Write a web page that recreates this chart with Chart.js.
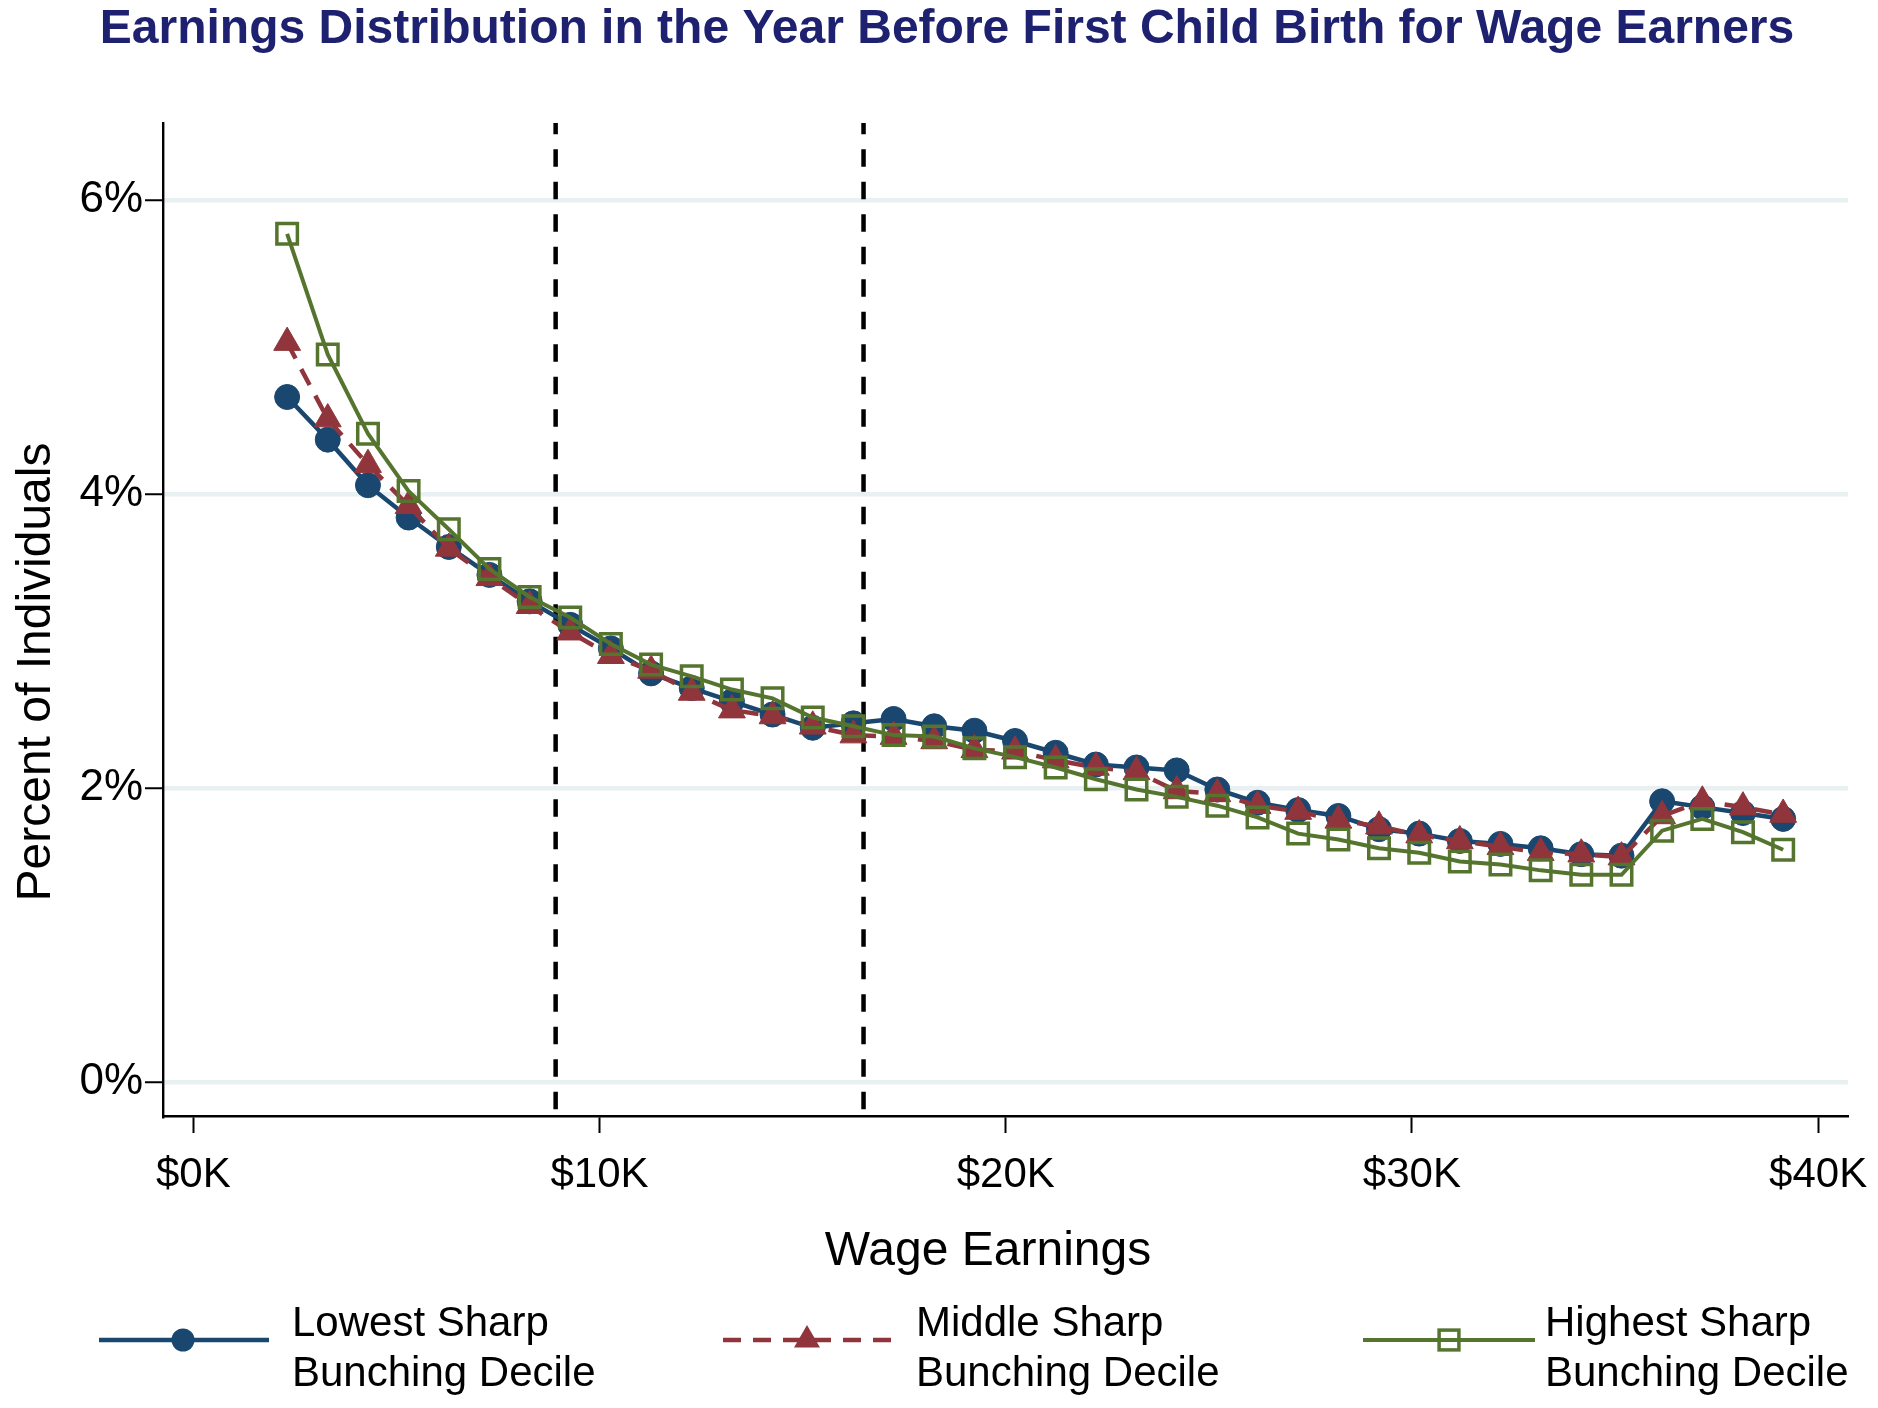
<!DOCTYPE html>
<html><head><meta charset="utf-8">
<script src="https://cdn.jsdelivr.net/npm/chart.js@4.4.1/dist/chart.umd.min.js"></script>
<style>html,body{margin:0;padding:0;background:#fff;}canvas{display:block;}</style>
</head><body>
<canvas id="c" width="1878" height="1408"></canvas>
<script>
// ---- data (wage earnings in $K, percent of individuals) ----
const earningsK = [2.31, 3.31, 4.30, 5.30, 6.29, 7.29, 8.28, 9.28, 10.28, 11.27,
  12.27, 13.26, 14.26, 15.25, 16.25, 17.24, 18.24, 19.23, 20.23, 21.23,
  22.22, 23.22, 24.21, 25.21, 26.20, 27.20, 28.19, 29.19, 30.18, 31.18,
  32.18, 33.17, 34.17, 35.16, 36.16, 37.15, 38.15, 39.14];
const lowestSharp = [4.66, 4.37, 4.06, 3.84, 3.64, 3.45, 3.27, 3.11, 2.95, 2.78,
  2.68, 2.59, 2.50, 2.41, 2.44, 2.47, 2.42, 2.39, 2.32, 2.24,
  2.16, 2.14, 2.12, 1.99, 1.90, 1.85, 1.81, 1.72, 1.69, 1.64,
  1.62, 1.59, 1.55, 1.54, 1.91, 1.87, 1.83, 1.79];
const middleSharp = [5.03, 4.51, 4.20, 3.92, 3.63, 3.43, 3.24, 3.06, 2.90, 2.80,
  2.65, 2.53, 2.49, 2.42, 2.36, 2.35, 2.32, 2.26, 2.25, 2.19,
  2.14, 2.11, 1.98, 1.96, 1.88, 1.84, 1.78, 1.74, 1.68, 1.64,
  1.60, 1.56, 1.55, 1.53, 1.81, 1.91, 1.87, 1.82];
const highestSharp = [5.77, 4.95, 4.41, 4.02, 3.76, 3.49, 3.30, 3.16, 2.98, 2.84,
  2.76, 2.67, 2.61, 2.48, 2.42, 2.36, 2.35, 2.27, 2.21, 2.14,
  2.06, 1.99, 1.94, 1.88, 1.80, 1.69, 1.65, 1.59, 1.56, 1.50,
  1.48, 1.44, 1.41, 1.41, 1.71, 1.79, 1.70, 1.58];
const cutoffsK = [8.92, 16.5];
const xTickValues = [0, 10, 20, 30, 40];
const yTickValues = [0, 2, 4, 6];
const seriesLabels = [["Lowest Sharp", "Bunching Decile"], ["Middle Sharp", "Bunching Decile"], ["Highest Sharp", "Bunching Decile"]];
const titleText = "Earnings Distribution in the Year Before First Child Birth for Wage Earners";
const xTitleText = "Wage Earnings";
const yTitleText = "Percent of Individuals";

// ---- styling ----
const FONT = "'Liberation Sans', Arial, Helvetica, sans-serif";
const NAVY = '#1a476f', MAROON = '#90353b', GREEN = '#55752f';
const X_MIN = -0.746, X_MAX = 40.736, Y_MIN = -0.231, Y_MAX = 6.524;

const toXY = ys => ys.map((y, i) => ({ x: earningsK[i], y }));

const datasets = [
  { data: toXY(lowestSharp), borderColor: NAVY, borderWidth: 4.5, pointStyle: 'circle', pointRadius: 12.5,
    pointBackgroundColor: NAVY, pointBorderColor: NAVY, pointBorderWidth: 1, order: 3 },
  { data: toXY(middleSharp), borderColor: MAROON, borderWidth: 4.5, borderDash: [18, 12], pointStyle: 'triangle', pointRadius: 15.5,
    pointBackgroundColor: MAROON, pointBorderColor: MAROON, pointBorderWidth: 1, order: 2 },
  { data: toXY(highestSharp), borderColor: GREEN, borderWidth: 4, pointStyle: 'rect', pointRadius: 14.5,
    pointBackgroundColor: 'rgba(0,0,0,0)', pointBorderColor: GREEN, pointBorderWidth: 3.5, order: 1 },
  ...cutoffsK.map(c => ({ data: [{ x: c, y: Y_MAX }, { x: c, y: Y_MIN }], borderColor: '#000', borderWidth: 4.5,
    borderDash: [17.5, 15], borderDashOffset: 6.3, pointRadius: 0, order: 10 }))
];

function drawMarker(ctx, style, x, y, r, color, lw) {
  ctx.save();
  ctx.fillStyle = color; ctx.strokeStyle = color;
  ctx.beginPath();
  if (style === 'circle') { ctx.arc(x, y, r, 0, Math.PI * 2); ctx.fill(); }
  else if (style === 'triangle') {
    ctx.moveTo(x, y - r);
    ctx.lineTo(x + r * Math.sin(Math.PI / 3), y + r / 2);
    ctx.lineTo(x - r * Math.sin(Math.PI / 3), y + r / 2);
    ctx.closePath(); ctx.fill();
  } else {
    const s = r * Math.SQRT1_2; ctx.lineWidth = lw; ctx.strokeRect(x - s, y - s, 2 * s, 2 * s);
  }
  ctx.restore();
}

const textPlugin = {
  id: 'texts',
  afterDraw(chart) {
    const ctx = chart.ctx;
    ctx.save();
    // title
    ctx.fillStyle = '#1e2170';
    ctx.font = `bold 48px ${FONT}`;
    ctx.textAlign = 'center'; ctx.textBaseline = 'alphabetic';
    ctx.fillText(titleText, 947, 43);
    // axis titles
    ctx.fillStyle = '#000';
    ctx.font = `48px ${FONT}`;
    ctx.fillText(xTitleText, 988, 1265);
    ctx.save();
    ctx.translate(50, 672); ctx.rotate(-Math.PI / 2);
    ctx.fillText(yTitleText, 0, 0);
    ctx.restore();
    // legend
    const items = [
      { x0: 99, x1: 269, mx: 183, tx: 292, color: NAVY, dash: [], style: 'circle', r: 11.5, lw: 4.5 },
      { x0: 723, x1: 893, mx: 807, tx: 916, color: MAROON, dash: [18, 12], style: 'triangle', r: 15, lw: 4.5 },
      { x0: 1363, x1: 1535, mx: 1449, tx: 1545, color: GREEN, dash: [], style: 'rect', r: 14, lw: 4 }
    ];
    const ly = 1340;
    items.forEach((it, i) => {
      ctx.save();
      ctx.strokeStyle = it.color; ctx.lineWidth = it.lw; ctx.setLineDash(it.dash);
      ctx.beginPath(); ctx.moveTo(it.x0, ly); ctx.lineTo(it.x1, ly); ctx.stroke();
      ctx.restore();
      drawMarker(ctx, it.style, it.mx, ly, it.r, it.color, 3.5);
      ctx.fillStyle = '#000';
      ctx.font = `42px ${FONT}`;
      ctx.textAlign = 'left';
      ctx.fillText(seriesLabels[i][0], it.tx, 1336);
      ctx.fillText(seriesLabels[i][1], it.tx, 1386);
    });
    ctx.restore();
  }
};

Chart.defaults.font.family = FONT;
new Chart(document.getElementById('c'), {
  type: 'line',
  data: { datasets },
  plugins: [textPlugin],
  options: {
    responsive: false, animation: false, events: [], devicePixelRatio: 1,
    layout: { padding: { left: 0, right: 30, top: 123, bottom: 0 } },
    plugins: { legend: { display: false }, title: { display: false }, tooltip: { enabled: false } },
    elements: { line: { tension: 0 } },
    scales: {
      x: {
        type: 'linear', min: X_MIN, max: X_MAX,
        afterBuildTicks: s => { s.ticks = xTickValues.map(v => ({ value: v })); },
        afterFit: s => { s.height = 1408 - 1116; s.paddingLeft = 0; s.paddingRight = 0; },
        grid: { drawOnChartArea: false, drawTicks: true, tickLength: 17, tickColor: '#000', tickWidth: 2 },
        border: { display: true, color: '#000', width: 2.4 },
        ticks: { color: '#000', font: { size: 42 }, padding: 17, maxRotation: 0, autoSkip: false,
          callback: v => '$' + v + 'K' }
      },
      y: {
        type: 'linear', min: Y_MIN, max: Y_MAX,
        afterBuildTicks: s => { s.ticks = yTickValues.map(v => ({ value: v })); },
        afterFit: s => { s.width = 163; s.paddingTop = 0; s.paddingBottom = 0; },
        grid: { color: '#e9f0f2', lineWidth: 4.5, tickLength: 18, tickColor: '#000', tickWidth: 2 },
        border: { display: true, color: '#000', width: 2.4 },
        ticks: { color: '#000', font: { size: 44 }, padding: 2, autoSkip: false,
          callback: v => v + '%' }
      }
    }
  }
});
</script>
</body></html>
